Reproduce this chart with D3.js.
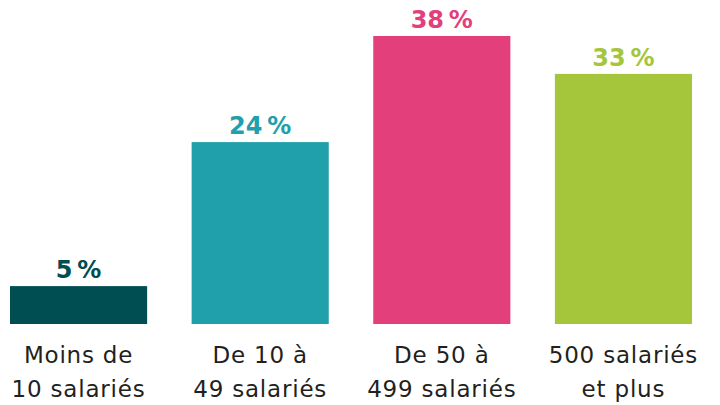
<!DOCTYPE html>
<html lang="fr">
<head>
<meta charset="UTF-8" />
<title>Répartition par taille d'entreprise</title>
<script src="https://cdn.jsdelivr.net/npm/d3@7"></script>
<style>
  html, body { margin: 0; padding: 0; background: #fff; }
  svg { display: block; }
</style>
</head>
<body>
<script>
  // données
  var categories = ["Moins de|10 salariés", "De 10 à|49 salariés", "De 50 à|499 salariés", "500 salariés|et plus"];
  var values = [5, 24, 38, 33];
  var colors = ["#004d52", "#1fa0aa", "#e33f7b", "#a5c63b"];

  var w = 720, h = 405;
  var svg = d3.select("body").append("svg")
      .attr("width", w)
      .attr("height", h);

  var baseY = 324;

  var x = d3.scaleBand()
      .domain(categories)
      .range([10, 692])
      .paddingInner(0.245)
      .paddingOuter(0);

  // 38 % -> 288px
  var y = d3.scaleLinear()
      .domain([0, 38])
      .range([baseY, 36]);

  var gs = svg.selectAll(".bar")
      .data(categories)
      .enter()
      .append("g")
      .attr("class", "bar");

  gs.append("rect")
      .attr("x", function(d){ return x(d); })
      .attr("y", function(d,i){ return y(values[i]); })
      .attr("width", x.bandwidth())
      .attr("height", function(d,i){ return baseY - y(values[i]); })
      .attr("fill", function(d,i){ return colors[i]; });

  // valeurs au-dessus des barres
  gs.append("text")
      .attr("x", function(d){ return x(d) + x.bandwidth()/2; })
      .attr("y", function(d,i){ return y(values[i]) - 8; })
      .attr("text-anchor", "middle")
      .attr("font-family", "DejaVu Sans")
      .attr("font-weight", "bold")
      .attr("font-size", 24)
      .attr("fill", function(d,i){ return colors[i]; })
      .text(function(d,i){ return values[i] + "\u2009%"; });

  // libellés des catégories, sur deux lignes
  var labels = gs.append("text")
      .attr("text-anchor", "middle")
      .attr("font-family", "DejaVu Sans")
      .attr("font-size", 23)
      .attr("letter-spacing", 0.8)
      .attr("fill", "#231f20");

  labels.selectAll("tspan")
      .data(function(d){ return d.split("|").map(function(t){ return {t: t, c: d}; }); })
      .enter()
      .append("tspan")
      .attr("x", function(o){ return x(o.c) + x.bandwidth()/2; })
      .attr("y", function(o,i){ return 363 + i*33.5; })
      .text(function(o){ return o.t; });
</script>
</body>
</html>
